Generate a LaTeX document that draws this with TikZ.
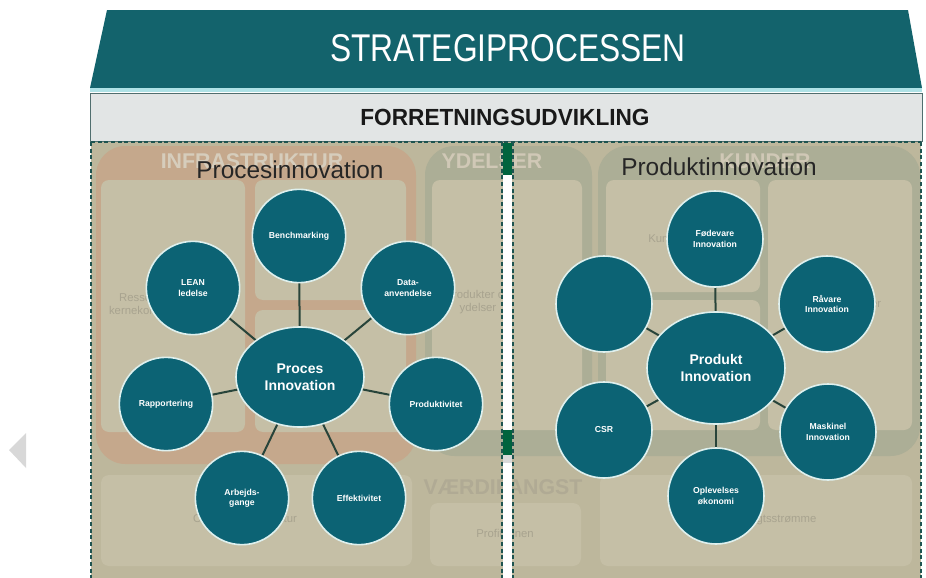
\documentclass[tikz,border=0pt]{standalone}
\usepackage{fontspec}
\setmainfont{Liberation Sans}
\usepackage{graphicx}
\usetikzlibrary{shapes.geometric}
\pgfdeclarelayer{back}
\pgfdeclarelayer{edges}
\pgfsetlayers{back,edges,main}
\definecolor{roofc}{RGB}{19,99,108}
\definecolor{bubc}{RGB}{12,99,116}
\definecolor{rimc}{RGB}{222,240,238}
\definecolor{hdrc}{RGB}{226,229,229}
\definecolor{khaki}{RGB}{189,183,156}
\definecolor{salmon}{RGB}{197,168,140}
\definecolor{sage}{RGB}{172,174,150}
\definecolor{boxc}{RGB}{197,191,166}
\definecolor{fadetxt}{RGB}{168,163,143}
\definecolor{fadehead}{RGB}{214,205,188}
\definecolor{fadehead2}{RGB}{176,170,148}
\definecolor{dashc}{RGB}{30,84,80}
\definecolor{linec}{RGB}{40,68,58}
\definecolor{darkgreen}{RGB}{0,100,62}
\definecolor{triag}{RGB}{216,216,216}
\definecolor{cyanline}{RGB}{175,226,230}
\definecolor{hdrborder}{RGB}{80,110,110}
\begin{document}
\begin{tikzpicture}[x=0.75pt,y=-0.75pt,
 bub/.style={circle,fill=bubc,draw=rimc,line width=1.2pt,minimum size=70pt,inner sep=0pt,align=center,text=white,font=\fontsize{6.5}{7.8}\selectfont\bfseries},
 bubr/.style={bub,minimum size=72pt},
 hub/.style={ellipse,fill=bubc,draw=rimc,line width=1.2pt,inner sep=0pt,align=center,text=white,font=\fontsize{10.5}{13}\selectfont\bfseries},
 conn/.style={draw=linec,line width=1.5pt},
 dashln/.style={draw=dashc,line width=1.4pt,dash pattern=on 3pt off 2pt},
 fadebox/.style={fill=boxc,rounded corners=6pt},
 fadelbl/.style={text=fadetxt,font=\fontsize{8.5}{9.5}\selectfont,align=center},
 fadehd/.style={text=fadehead,font=\fontsize{16}{17}\selectfont\bfseries},
 paneltitle/.style={font=\fontsize{18.3}{20}\selectfont,text=black!85}
]
\useasboundingbox (0,0) rectangle (926,578);

\begin{pgfonlayer}{back}
% carousel arrow
\fill[triag] (9,450) -- (26,433) -- (26,468) -- cycle;
% roof
\fill[roofc] (107,10) -- (908,10) -- (922,88) -- (90,88) -- cycle;
\fill[cyanline] (90,88) rectangle (922,92);
% header bar
\draw[fill=hdrc,draw=hdrborder,line width=0.6pt] (90,93) rectangle (922,141);
% panel background
\fill[khaki] (91,142) rectangle (921,578);
% INFRASTRUKTUR
\fill[salmon,rounded corners=22pt] (96,146) rectangle (416,464);
\fill[fadebox] (101,180) rectangle (245,432);
\fill[fadebox] (255,180) rectangle (406,300);
\fill[fadebox] (255,310) rectangle (406,432);
\node[fadehd] (infra) at (252,161) {INFRASTRUKTUR};
\node[fadelbl] (ress) at (156,305) {Ressourcer og\\kernekompetencer};
\node[fadelbl] (akt) at (315,235) {Aktiviteter};
% YDELSER
\fill[sage,rounded corners=22pt] (425,146) rectangle (592,456);
\fill[fadebox] (432,180) rectangle (582,430);
\node[fadehd,text=fadehead!85!sage] (ydel) at (492,161) {YDELSER};
\node[fadelbl] (prody) at (478,302) {Produkter og\\ydelser};
% KUNDER
\fill[sage,rounded corners=22pt] (598,146) rectangle (920,456);
\fill[fadebox] (606,180) rectangle (760,292);
\fill[fadebox] (606,300) rectangle (760,430);
\fill[fadebox] (768,180) rectangle (912,430);
\node[fadehd,text=fadehead!85!sage] (kund) at (765,161) {KUNDER};
\node[fadelbl] (kforh) at (682,238) {Kundeforhold};
\node[fadelbl] (distr) at (682,365) {Distribution};
\node[fadelbl] (kseg) at (838,305) {Kundesegmenter};
% VAERDIFANGST
\fill[fadebox] (101,475) rectangle (412,566);
\fill[fadebox] (430,503) rectangle (581,566);
\fill[fadebox] (600,475) rectangle (912,566);
\node[fadehd,text=fadehead2] (vaerdi) at (503,487) {VÆRDIFANGST};
\node[fadelbl] (omk) at (245,520) {Omkostningsstruktur};
\node[fadelbl] (profit) at (505,533) {Profitzonen};
\node[fadelbl] (indt) at (772,520) {Indtægtsstrømme};
% centre strip
\fill[white] (503,143) rectangle (512,578);
\fill[darkgreen] (503,143) rectangle (512,175);
\fill[darkgreen] (503,430) rectangle (512,455);
\fill[black!15] (503,455) rectangle (512,463);
% dashed borders
\draw[dashln] (91,142) -- (921,142);
\draw[dashln] (91,142) -- (91,578);
\draw[dashln] (502,142) -- (502,578);
\draw[dashln] (513,142) -- (513,578);
\draw[dashln] (921,142) -- (921,578);
\end{pgfonlayer}

% roof and header texts
\node[text=white,font=\fontsize{29}{30}\selectfont] (strat) at (508,48) {\scalebox{0.82}[1]{STRATEGIPROCESSEN}};
\node[text=black!90,font=\fontsize{17.5}{18}\selectfont\bfseries] (forr) at (505,117) {\scalebox{0.97}[1]{FORRETNINGSUDVIKLING}};

% panel titles
\node[paneltitle] (ptitle) at (290,170) {Procesinnovation};
\node[paneltitle] (dtitle) at (719,167) {Produktinnovation};

% left cluster
\node[hub,minimum width=96pt,minimum height=75pt] (pc) at (300,377) {Proces\\Innovation};
\node[bub] (bench) at (299,236) {Benchmarking};
\node[bub] (lean) at (193,288) {LEAN\\ledelse};
\node[bub] (data) at (408,288) {Data-\\anvendelse};
\node[bub] (rapp) at (166,404) {Rapportering};
\node[bub] (prodv) at (436,404) {Produktivitet};
\node[bub] (arb) at (242,498) {Arbejds-\\gange};
\node[bub] (eff) at (359,498) {Effektivitet};

% right cluster
\node[hub,minimum width=103.5pt,minimum height=84pt] (pi) at (716,368) {Produkt\\Innovation};
\node[bubr] (fod) at (715,239) {Fødevare\\Innovation};
\node[bubr] (rav) at (827,304) {Råvare\\Innovation};
\node[bubr] (blank) at (604,304) {};
\node[bubr] (csr) at (604,430) {CSR};
\node[bubr] (mask) at (828,432) {Maskinel\\Innovation};
\node[bubr] (opl) at (716,496) {Oplevelses\\økonomi};

\begin{pgfonlayer}{edges}
\foreach \n in {bench,lean,data,rapp,prodv,arb,eff}{\draw[conn] (pc.center) -- (\n.center);}
\foreach \n in {fod,rav,blank,csr,mask,opl}{\draw[conn] (pi.center) -- (\n.center);}
\end{pgfonlayer}
\end{tikzpicture}
\end{document}
